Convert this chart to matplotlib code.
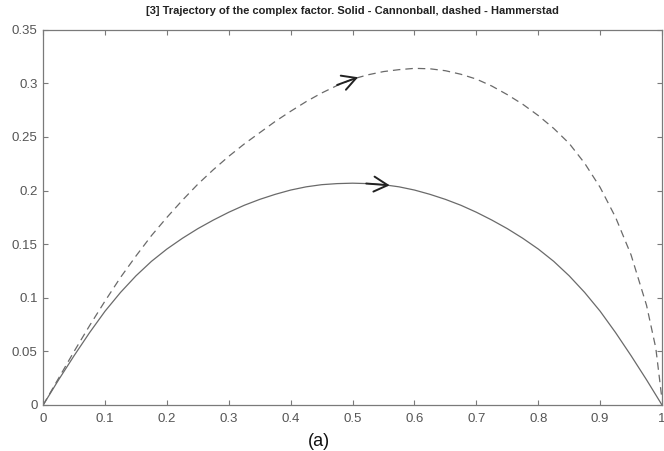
import matplotlib
matplotlib.use('Agg')
import matplotlib.pyplot as plt

# Cannonball (solid)
x_solid = [0, 0.025, 0.05, 0.075, 0.1, 0.125, 0.15, 0.175, 0.2, 0.225, 0.25, 0.275,
           0.3, 0.325, 0.35, 0.375, 0.4, 0.425, 0.45, 0.475, 0.5, 0.525, 0.55,
           0.575, 0.6, 0.625, 0.65, 0.675, 0.7, 0.725, 0.75, 0.775, 0.8, 0.825,
           0.85, 0.875, 0.9, 0.925, 0.95, 0.975, 1.0]
y_solid = [0, 0.0235, 0.046, 0.0675, 0.0875, 0.105, 0.1205, 0.134, 0.1455, 0.1555, 0.1645,
           0.1725, 0.1798, 0.1863, 0.1918, 0.1965, 0.2005, 0.2035, 0.2055, 0.2065, 0.2069,
           0.2065, 0.2055, 0.2035, 0.2005, 0.1965, 0.1918, 0.1863, 0.1798, 0.1725, 0.1645,
           0.1555, 0.1455, 0.134, 0.1205, 0.105, 0.0875, 0.0675, 0.046, 0.0235, 0]

# Hammerstad (dashed)
x_dash = [0, 0.025, 0.05, 0.075, 0.1, 0.125, 0.15, 0.175, 0.2, 0.225, 0.25, 0.275,
          0.3, 0.325, 0.35, 0.375, 0.4, 0.425, 0.45, 0.475, 0.5, 0.525, 0.55,
          0.575, 0.6, 0.625, 0.65, 0.675, 0.7, 0.725, 0.75, 0.775, 0.8, 0.825,
          0.85, 0.875, 0.9, 0.925, 0.95, 0.975, 0.99, 1.0]
y_dash = [0, 0.025, 0.050, 0.074, 0.097, 0.119, 0.139, 0.158, 0.175, 0.191, 0.206, 0.2195,
          0.232, 0.2435, 0.254, 0.2645, 0.274, 0.283, 0.291, 0.298, 0.304, 0.308, 0.311,
          0.3128, 0.314, 0.3136, 0.3118, 0.3085, 0.304, 0.2975, 0.2895, 0.2805, 0.270, 0.258,
          0.244, 0.2255, 0.203, 0.175, 0.140, 0.093, 0.053, 0.005]

# arrow positions (tip, tail)
arrows = [((0.509, 0.3057), (0.475, 0.2985)),
          ((0.560, 0.2049), (0.522, 0.2066))]

plt.rcParams['font.family'] = ['Liberation Sans', 'DejaVu Sans']

fig = plt.figure(figsize=(6.64, 4.51), dpi=100)
ax = fig.add_axes([0.065, 0.102, 0.932, 0.832])

line_col = '#6a6a6a'
ax.plot(x_solid, y_solid, color=line_col, lw=0.9)
ax.plot(x_dash, y_dash, color=line_col, lw=0.9, ls=(0, (6, 4)))

for tip, tail in arrows:
    ax.annotate('', xy=tip, xytext=tail,
                arrowprops=dict(arrowstyle='->,head_length=0.55,head_width=0.3',
                                color='#222222', lw=1.4, mutation_scale=18,
                                shrinkA=0, shrinkB=0))

ax.set_xlim(0, 1)
ax.set_ylim(0, 0.35)
ax.set_xticks([0, 0.1, 0.2, 0.3, 0.4, 0.5, 0.6, 0.7, 0.8, 0.9, 1])
ax.set_xticklabels(['0', '0.1', '0.2', '0.3', '0.4', '0.5', '0.6', '0.7', '0.8', '0.9', '1'])
ax.set_yticks([0, 0.05, 0.1, 0.15, 0.2, 0.25, 0.3, 0.35])
ax.set_yticklabels(['0', '0.05', '0.1', '0.15', '0.2', '0.25', '0.3', '0.35'])

ax.tick_params(direction='in', length=3.5, width=0.8, colors='#7a7a7a',
               labelcolor='#555555', labelsize=9.5, top=True, right=True)
ax.tick_params(axis='x', pad=6)
ax.tick_params(axis='y', pad=4)
for s in ax.spines.values():
    s.set_color('#7a7a7a')
    s.set_linewidth(0.9)

ax.set_title('[3] Trajectory of the complex factor. Solid - Cannonball, dashed - Hammerstad',
             fontsize=8, fontweight='bold', color='#222222', pad=11)

fig.text(319 / 664, 1 - 441 / 451, '(a)', fontsize=13, color='#111111',
         ha='center', va='center')

fig.savefig('out.png', dpi=100)
